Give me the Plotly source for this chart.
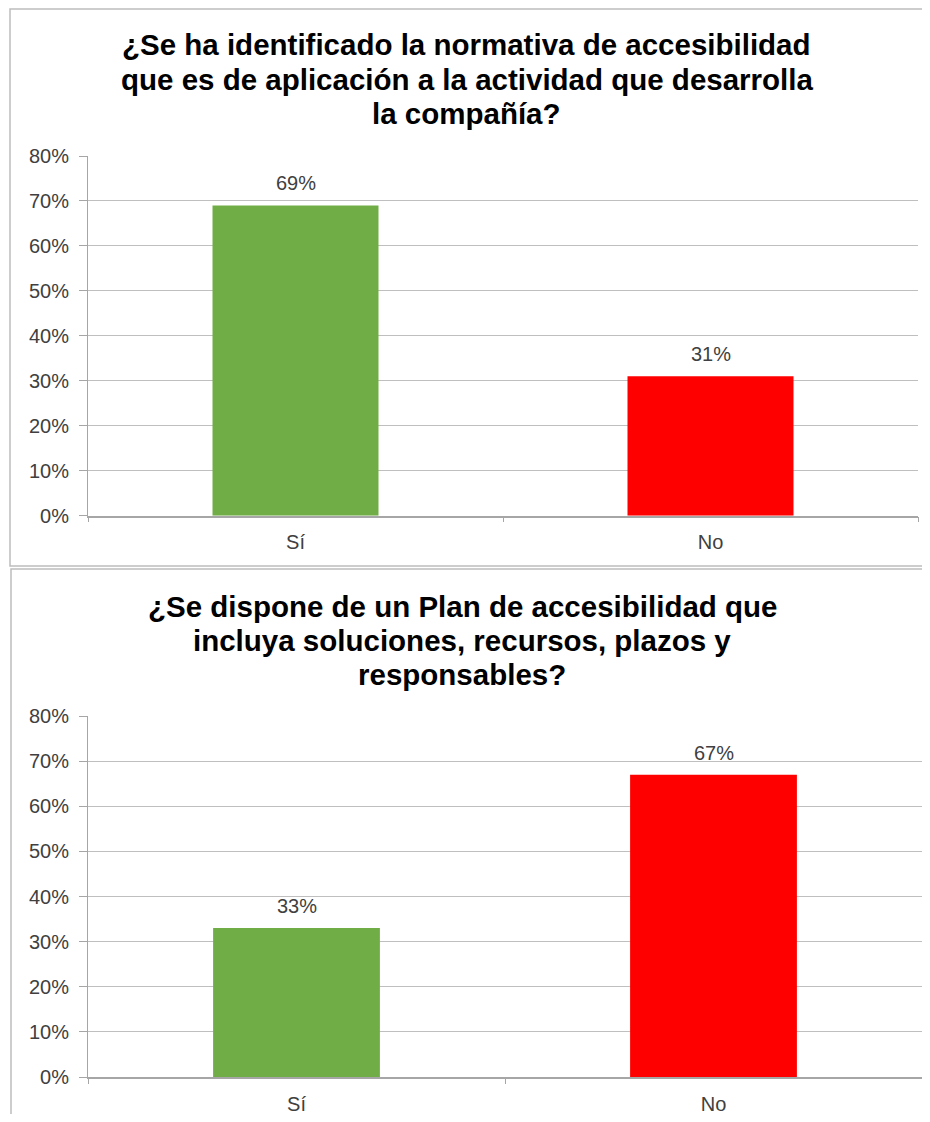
import plotly.graph_objects as go

categorias = ["Sí", "No"]
normativa = [0.69, 0.31]
plan = [0.33, 0.67]
colores = ["#70AD47", "#FF0000"]

titulo_1 = ["¿Se ha identificado la normativa de accesibilidad",
            "que es de aplicación a la actividad que desarrolla",
            "la compañía?"]
titulo_2 = ["¿Se dispone de un Plan de accesibilidad que",
            "incluya soluciones, recursos, plazos y",
            "responsables?"]

# the page body keeps an 8px margin, so the figure is laid out in page pixels minus that
OX, OY = 8, 8
W, H = 930 - 2 * OX, 1122 - 2 * OY
FUENTE = "Liberation Sans, Arial"


def px_x(x):
    return (x - OX) / W


def px_y(y):
    return 1 - (y - OY) / H


fig = go.Figure()

anotaciones = []
for datos, xa, ya in [(normativa, "x", "y"), (plan, "x2", "y2")]:
    fig.add_trace(go.Bar(
        x=categorias, y=datos, xaxis=xa, yaxis=ya,
        marker=dict(color=colores, line=dict(width=0)),
        showlegend=False, hoverinfo="skip",
    ))
    for c, v in zip(categorias, datos):
        anotaciones.append(dict(
            x=c, y=v, xref=xa, yref=ya, text=f"{round(v * 100)}%",
            showarrow=False, yanchor="bottom", yshift=9,
            font=dict(family=FUENTE, size=20, color="#404040"),
        ))

eje_y = dict(
    range=[0, 0.8], dtick=0.1, tickformat=".0%",
    showgrid=True, gridcolor="#BFBFBF", gridwidth=1,
    showline=True, linecolor="#A6A6A6", linewidth=1,
    ticks="outside", ticklen=8, tickcolor="#A6A6A6",
    tickfont=dict(family=FUENTE, size=20, color="#404040"),
    ticklabelstandoff=6, automargin=False,
    zeroline=False, fixedrange=True,
)
eje_x = dict(
    showline=True, linecolor="#A6A6A6", linewidth=1.5,
    ticks="outside", tickson="boundaries", ticklen=5, tickcolor="#A6A6A6",
    tickfont=dict(family=FUENTE, size=20, color="#404040"),
    ticklabelstandoff=8, automargin=False,
    showgrid=False, fixedrange=True,
)

for lineas, xc, y0 in [(titulo_1, 467, 45), (titulo_2, 462, 606)]:
    for i, t in enumerate(lineas):
        anotaciones.append(dict(
            text=t, xref="paper", yref="paper", x=px_x(xc), y=px_y(y0 + 34 * i),
            xanchor="center", yanchor="middle", showarrow=False,
            font=dict(family=FUENTE, size=29.5, color="#000000", weight="bold"),
        ))

fig.update_layout(
    width=W, height=H,
    margin=dict(l=0, r=0, t=0, b=0, autoexpand=False),
    paper_bgcolor="white", plot_bgcolor="white",
    bargap=0.6,
    xaxis=dict(eje_x, domain=[px_x(88), px_x(918)], anchor="y"),
    yaxis=dict(eje_y, domain=[px_y(515.7), px_y(156)], anchor="x"),
    xaxis2=dict(eje_x, domain=[px_x(88), px_x(922)], anchor="y2"),
    yaxis2=dict(eje_y, domain=[px_y(1077), px_y(716)], anchor="x2"),
    shapes=[
        dict(type="rect", xref="paper", yref="paper",
             x0=px_x(10), x1=px_x(927), y0=px_y(566), y1=px_y(9),
             line=dict(color="#BDBDBD", width=1.5)),
        dict(type="rect", xref="paper", yref="paper",
             x0=px_x(11), x1=px_x(940), y0=px_y(1140), y1=px_y(569),
             line=dict(color="#BDBDBD", width=1.5)),
    ],
    annotations=anotaciones,
)

fig.write_html("out.html")
